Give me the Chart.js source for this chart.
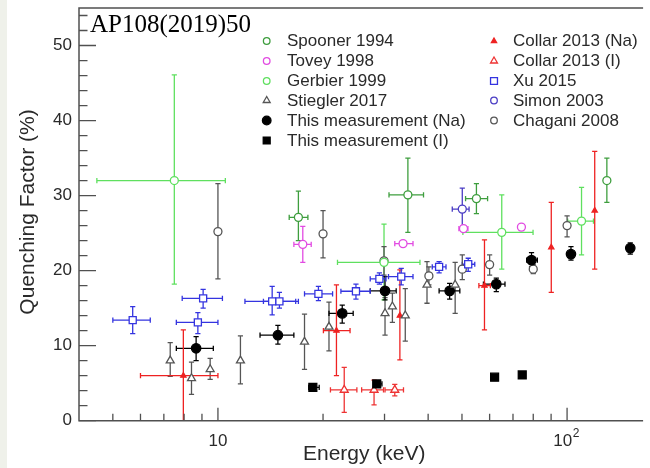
<!DOCTYPE html>
<html lang="en">
<head>
<meta charset="UTF-8">
<title>Quenching Factor vs Energy</title>
<script src="https://cdn.jsdelivr.net/npm/chart.js"></script>
<style>
  body { margin: 0; background: #fff; }
  canvas { display: block; }
</style>
</head>
<body>
<canvas id="qfChart" width="650" height="468"></canvas>
<script>
// each row: [E (keV), QF (%), E low, E high, QF low, QF high]  (null = no error bar)
const spooner1994 = [
  [17.0, 27.1, 16.0, 18.1, 24.0, 30.6],
  [35.0, 30.1, 30.9, 38.8, 25.1, 35.0],
  [55.0, 29.6, 51.2, 59.2, 27.6, 31.6],
  [130, 32.0, null, null, 29.1, 35.0]
];
const tovey1998 = [
  [17.5, 23.5, 16.5, 18.5, 21.1, 25.9],
  [33.9, 23.6, 32.1, 36.2, null, null],
  [50.5, 25.6, 49.0, 52.0, null, null],
  [74.0, 25.8, null, null, null, null]
];
const gerbier1999 = [
  [7.5, 32.0, 4.5, 10.5, 18.2, 46.1],
  [29.9, 21.1, 22.0, 37.9, 16.1, 26.2],
  [65.0, 25.1, 50.3, 79.9, 20.2, 30.1],
  [110, 26.6, 100.4, 119, 22.1, 31.1]
];
const stiegler2017 = [
  [7.3, 8.0, null, null, 5.9, 10.4],
  [8.4, 5.65, null, null, 3.5, 7.8],
  [9.5, 6.85, null, null, 5.5, 8.3],
  [11.6, 8.0, null, null, 4.9, 11.3],
  [17.7, 10.5, null, null, 6.85, 14.2],
  [20.8, 12.5, null, null, 9.3, 15.8],
  [30.1, 14.3, null, null, 11.4, 16.4],
  [31.6, 15.2, null, null, 13.1, 17.0],
  [34.4, 14.0, null, null, 10.6, 17.6],
  [39.7, 18.1, null, null, 15.65, 21.2],
  [47.8, 18.1, null, null, 14.3, 21.1]
];
const thisNa = [
  [8.66, 9.65, 7.6, 9.7, 8.0, 11.2],
  [14.85, 11.4, 13.2, 16.5, 10.2, 12.7],
  [22.7, 14.3, 20.8, 24.4, 13.0, 15.4],
  [30.1, 17.3, 27.3, 32.4, 16.1, 19.2],
  [46.1, 17.3, 43.0, 49.3, 16.2, 18.3],
  [62.7, 18.2, 57.6, 66.4, 17.2, 19.0],
  [79.1, 21.4, 76.6, 82.2, 20.5, 22.4],
  [102.6, 22.2, null, null, 21.4, 23.2],
  [151.7, 23.0, null, null, 22.2, 23.7]
];
const thisI = [
  [18.7, 4.45, 18.2, 19.5, null, null],
  [28.5, 4.9, 27.9, 29.5, null, null],
  [62.0, 5.8, null, null, null, null],
  [74.4, 6.1, null, null, null, null]
];
const collarNa = [
  [7.96, 6.0, 6.0, 10.0, 0, 12.1],
  [21.85, 12.0, 20.05, 23.9, 6.0, 18.1],
  [33.2, 14.0, null, null, 8.1, 20.1],
  [58.0, 18.0, 55.9, 60.3, 12.1, 24.1],
  [90.1, 23.1, null, null, 17.1, 29.1],
  [120, 28.0, null, null, 20.2, 35.9]
];
const collarI = [
  [23.0, 4.1, 21.0, 25.0, 1.1, 7.1],
  [28.0, 4.1, 25.8, 29.8, 2.1, 5.4],
  [32.1, 4.1, 30.1, 34.0, 3.3, 4.85]
];
const xu2015 = [
  [5.7, 13.4, 5.0, 6.4, 11.6, 15.2],
  [9.07, 16.3, 7.9, 10.3, 15.0, 17.5],
  [8.76, 13.1, 7.6, 10.0, 11.6, 14.4],
  [14.3, 15.9, 11.95, 17.0, 14.1, 17.9],
  [15.0, 15.9, 13.5, 16.7, 15.0, 17.1],
  [19.4, 16.9, 17.7, 21.3, 16.0, 17.9],
  [24.85, 17.25, 22.5, 27.3, 16.2, 18.2],
  [29.0, 18.9, 27.3, 30.3, 18.2, 19.7],
  [33.5, 19.2, 30.8, 36.2, 18.1, 20.3],
  [43.0, 20.5, 41.1, 45.0, 19.7, 21.2],
  [52.1, 20.85, 50.1, 54.4, 19.9, 21.65]
];
const simon2003 = [
  [50.1, 28.2, 46.9, 52.4, 25.4, 31.0]
];
const chagani2008 = [
  [10.0, 25.2, null, null, 18.9, 31.6],
  [20.0, 24.9, null, null, 21.7, 28.0],
  [29.9, 21.3, null, null, 19.4, 23.2],
  [40.2, 19.3, null, null, 18.1, 20.5],
  [50.1, 20.2, null, null, 18.8, 22.1],
  [60.0, 20.8, null, null, 19.4, 22.1],
  [80.0, 20.2, null, null, 19.6, 20.8],
  [100, 26.0, null, null, 24.5, 27.3]
];

const xMajorTicks = [10, 100];
const xMinorTicks = [5, 6, 7, 8, 9, 20, 30, 40, 50, 60, 70, 80, 90];
const yMajorTicks = [0, 10, 20, 30, 40, 50];
const yMinorTicks = [2, 4, 6, 8, 12, 14, 16, 18, 22, 24, 26, 28, 32, 34, 36, 38, 42, 44, 46, 48, 52, 54];

// series styles + legend slot (col, row)
const series = [
  { label: 'Spooner 1994', rows: spooner1994, color: '#3e9e3e', style: 'circle', filled: false, r: 4, lr: 3.3, col: 0, row: 0 },
  { label: 'Tovey 1998', rows: tovey1998, color: '#e24be2', style: 'circle', filled: false, r: 4, lr: 3.3, col: 0, row: 1 },
  { label: 'Gerbier 1999', rows: gerbier1999, color: '#5fe05f', style: 'circle', filled: false, r: 4, lr: 3.3, col: 0, row: 2 },
  { label: 'Stiegler 2017', rows: stiegler2017, color: '#555555', style: 'triangle', filled: false, r: 4.6, lr: 4, col: 0, row: 3 },
  { label: 'This measurement (Na)', rows: thisNa, color: '#000000', style: 'circle', filled: true, r: 4.7, lr: 4.3, col: 0, row: 4 },
  { label: 'This measurement (I)', rows: thisI, color: '#000000', style: 'rect', filled: true, r: 5.6, lr: 4.9, col: 0, row: 5 },
  { label: 'Collar 2013 (Na)', rows: collarNa, color: '#ee2222', style: 'triangle', filled: true, r: 3, lr: 3, col: 1, row: 0 },
  { label: 'Collar 2013 (I)', rows: collarI, color: '#ee3333', style: 'triangle', filled: false, r: 4.6, lr: 4, col: 1, row: 1 },
  { label: 'Xu 2015', rows: xu2015, color: '#3434e0', style: 'rect', filled: false, r: 5, lr: 4.9, col: 1, row: 2 },
  { label: 'Simon 2003', rows: simon2003, color: '#4a3cc4', style: 'circle', filled: false, r: 4, lr: 3.3, col: 1, row: 3 },
  { label: 'Chagani 2008', rows: chagani2008, color: '#555555', style: 'circle', filled: false, r: 4, lr: 3.3, col: 1, row: 4 }
];

const datasets = series.map(s => ({
  label: s.label,
  data: s.rows.map(r => ({ x: r[0], y: r[1], xMin: r[2], xMax: r[3], yMin: r[4], yMax: r[5] })),
  pointStyle: s.style,
  pointRadius: s.r,
  pointHoverRadius: s.r,
  borderColor: s.color,
  backgroundColor: s.filled ? s.color : '#ffffff',
  pointBorderWidth: 1.3,
  showLine: false
}));

const AXIS = '#505050';
const TEXT = '#2a2a2a';

function marker(ctx, style, x, y, r, color, filled) {
  ctx.beginPath();
  if (style === 'circle') {
    ctx.arc(x, y, r, 0, Math.PI * 2);
  } else if (style === 'rect') {
    const h = r * Math.SQRT1_2;
    ctx.rect(x - h, y - h, 2 * h, 2 * h);
  } else {
    for (let i = 0; i < 3; i++) {
      const a = i * 2 * Math.PI / 3;
      const px = x + Math.sin(a) * r, py = y - Math.cos(a) * r;
      i ? ctx.lineTo(px, py) : ctx.moveTo(px, py);
    }
    ctx.closePath();
  }
  ctx.fillStyle = filled ? color : '#ffffff';
  ctx.fill();
  ctx.strokeStyle = color;
  ctx.lineWidth = 1.3;
  ctx.stroke();
}

const errorBars = {
  id: 'errorBars',
  beforeDatasetsDraw(chart) {
    const { ctx, scales: { x, y }, chartArea } = chart;
    const cap = 2.6;
    ctx.save();
    ctx.beginPath();
    ctx.rect(chartArea.left, chartArea.top, chartArea.right - chartArea.left, chartArea.bottom - chartArea.top);
    ctx.clip();
    chart.data.datasets.forEach(ds => {
      ctx.strokeStyle = ds.borderColor;
      ctx.lineWidth = 1.3;
      ds.data.forEach(p => {
        const px = x.getPixelForValue(p.x), py = y.getPixelForValue(p.y);
        ctx.beginPath();
        if (p.xMin != null) {
          const a = x.getPixelForValue(p.xMin), b = x.getPixelForValue(p.xMax);
          ctx.moveTo(a, py); ctx.lineTo(b, py);
          ctx.moveTo(a, py - cap); ctx.lineTo(a, py + cap);
          ctx.moveTo(b, py - cap); ctx.lineTo(b, py + cap);
        }
        if (p.yMin != null) {
          const a = y.getPixelForValue(p.yMin), b = y.getPixelForValue(p.yMax);
          ctx.moveTo(px, a); ctx.lineTo(px, b);
          ctx.moveTo(px - cap, a); ctx.lineTo(px + cap, a);
          ctx.moveTo(px - cap, b); ctx.lineTo(px + cap, b);
        }
        ctx.stroke();
      });
    });
    ctx.restore();
  }
};

const frameAndText = {
  id: 'frameAndText',
  beforeDraw(chart) {
    const { ctx } = chart;
    ctx.save();
    ctx.fillStyle = '#eff1ea';
    ctx.fillRect(0, 0, 7, chart.height);
    ctx.restore();
  },
  afterDraw(chart) {
    const { ctx, scales: { x, y }, chartArea: ca } = chart;
    ctx.save();
    ctx.strokeStyle = AXIS;
    ctx.lineWidth = 1.5;
    ctx.beginPath();
    ctx.moveTo(ca.right, ca.top); ctx.lineTo(ca.left, ca.top);
    ctx.lineTo(ca.left, ca.bottom); ctx.lineTo(ca.right, ca.bottom);
    ctx.stroke();

    ctx.lineWidth = 1.3;
    ctx.beginPath();
    xMajorTicks.forEach(v => { const p = x.getPixelForValue(v); ctx.moveTo(p, ca.bottom); ctx.lineTo(p, ca.bottom - 13); });
    xMinorTicks.forEach(v => { const p = x.getPixelForValue(v); ctx.moveTo(p, ca.bottom); ctx.lineTo(p, ca.bottom - 7); });
    yMajorTicks.forEach(v => { const p = y.getPixelForValue(v); ctx.moveTo(ca.left, p); ctx.lineTo(ca.left + 17, p); });
    yMinorTicks.forEach(v => { const p = y.getPixelForValue(v); ctx.moveTo(ca.left, p); ctx.lineTo(ca.left + 8.5, p); });
    ctx.stroke();

    ctx.fillStyle = TEXT;
    ctx.font = '17px "Liberation Sans", Arial, sans-serif';
    ctx.textAlign = 'right';
    ctx.textBaseline = 'middle';
    yMajorTicks.forEach(v => ctx.fillText(String(v), 72, y.getPixelForValue(v)));

    // x labels: 10 and 10^2
    ctx.textAlign = 'center';
    ctx.fillText('10', x.getPixelForValue(10), 441);
    const p100 = x.getPixelForValue(100);
    const w10 = ctx.measureText('10').width;
    ctx.font = '12px "Liberation Sans", Arial, sans-serif';
    const w2 = ctx.measureText('2').width;
    const start = p100 - (w10 + w2) / 2 - 1;
    ctx.textAlign = 'left';
    ctx.fillText('2', start + w10 + 0.5, 434);
    ctx.font = '17px "Liberation Sans", Arial, sans-serif';
    ctx.fillText('10', start, 441);

    // axis titles
    ctx.font = '21px "Liberation Sans", Arial, sans-serif';
    ctx.textAlign = 'left';
    ctx.textBaseline = 'alphabetic';
    ctx.fillText('Energy (keV)', 303, 460);
    ctx.save();
    ctx.translate(34, 212);
    ctx.rotate(-Math.PI / 2);
    ctx.textAlign = 'center';
    ctx.fillText('Quenching Factor (%)', 0, 0);
    ctx.restore();

    // legend
    const colMarker = [266.7, 494], colText = [287, 513];
    const rowY = [41, 61, 81, 100.5, 120.5, 140.5];
    ctx.font = '17px "Liberation Sans", Arial, sans-serif';
    ctx.textBaseline = 'middle';
    ctx.textAlign = 'left';
    series.forEach(s => {
      const yy = rowY[s.row];
      marker(ctx, s.style, colMarker[s.col], yy, s.lr, s.color, s.filled);
      ctx.fillStyle = TEXT;
      ctx.fillText(s.label, colText[s.col], yy + 0.5);
    });

    // reference tag
    ctx.fillStyle = '#000';
    ctx.font = '25px "Liberation Serif", "Times New Roman", serif';
    ctx.textBaseline = 'alphabetic';
    ctx.fillText('AP108(2019)50', 90, 32);
    ctx.restore();
  }
};

new Chart(document.getElementById('qfChart').getContext('2d'), {
  type: 'scatter',
  data: { datasets },
  options: {
    responsive: false,
    animation: false,
    layout: { padding: { left: 79, top: 8, right: 0, bottom: 47.3 } },
    scales: {
      x: { type: 'logarithmic', min: 4, max: 165.1, display: false },
      y: { type: 'linear', min: 0, max: 55, display: false }
    },
    plugins: { legend: { display: false }, tooltip: { enabled: false } }
  },
  plugins: [errorBars, frameAndText]
});
</script>
</body>
</html>
